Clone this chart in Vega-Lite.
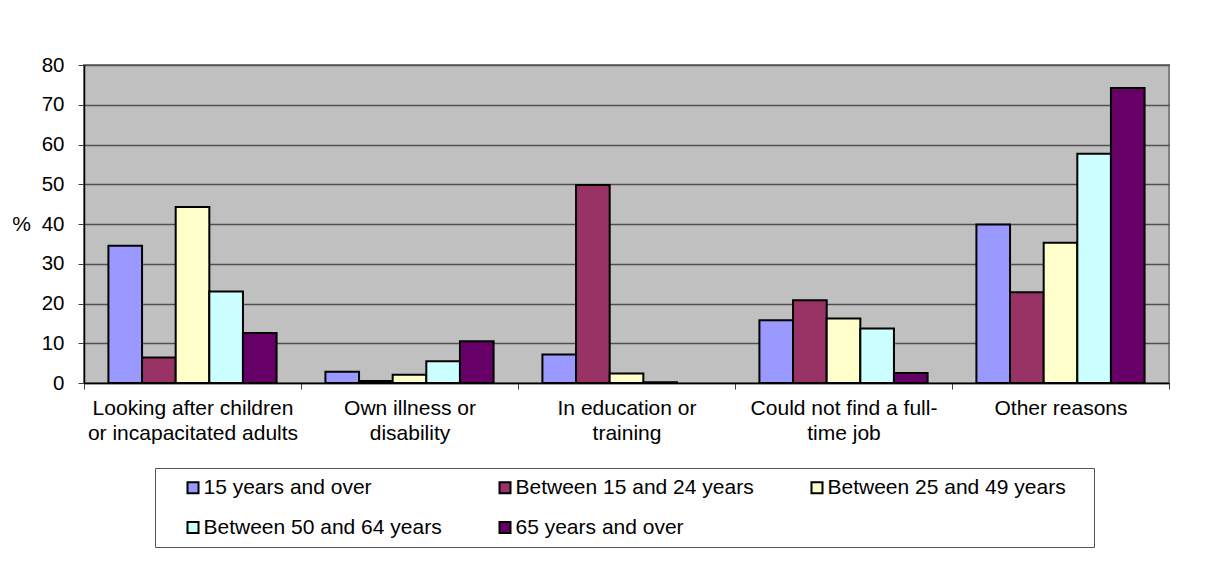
{
  "$schema": "https://vega.github.io/schema/vega-lite/v6.json",
  "width": 1085,
  "height": 318,
  "autosize": {"type": "none"},
  "padding": {"left": 84, "top": 65, "right": 39, "bottom": 189},
  "background": "#ffffff",
  "config": {
    "font": "Liberation Sans",
    "view": {"fill": "#C0C0C0", "stroke": "#808080", "strokeWidth": 2}
  },
  "data": {
    "values": [
      {"reason": "Looking after children or incapacitated adults", "age": "15 years and over", "pct": 34.5},
      {"reason": "Looking after children or incapacitated adults", "age": "Between 15 and 24 years", "pct": 6.4},
      {"reason": "Looking after children or incapacitated adults", "age": "Between 25 and 49 years", "pct": 44.3},
      {"reason": "Looking after children or incapacitated adults", "age": "Between 50 and 64 years", "pct": 23.0},
      {"reason": "Looking after children or incapacitated adults", "age": "65 years and over", "pct": 12.6},
      {"reason": "Own illness or disability", "age": "15 years and over", "pct": 2.8},
      {"reason": "Own illness or disability", "age": "Between 15 and 24 years", "pct": 0.5},
      {"reason": "Own illness or disability", "age": "Between 25 and 49 years", "pct": 2.1},
      {"reason": "Own illness or disability", "age": "Between 50 and 64 years", "pct": 5.5},
      {"reason": "Own illness or disability", "age": "65 years and over", "pct": 10.5},
      {"reason": "In education or training", "age": "15 years and over", "pct": 7.2},
      {"reason": "In education or training", "age": "Between 15 and 24 years", "pct": 49.8},
      {"reason": "In education or training", "age": "Between 25 and 49 years", "pct": 2.4},
      {"reason": "In education or training", "age": "Between 50 and 64 years", "pct": 0.2},
      {"reason": "Could not find a full-time job", "age": "15 years and over", "pct": 15.8},
      {"reason": "Could not find a full-time job", "age": "Between 15 and 24 years", "pct": 20.8},
      {"reason": "Could not find a full-time job", "age": "Between 25 and 49 years", "pct": 16.2},
      {"reason": "Could not find a full-time job", "age": "Between 50 and 64 years", "pct": 13.7},
      {"reason": "Could not find a full-time job", "age": "65 years and over", "pct": 2.5},
      {"reason": "Other reasons", "age": "15 years and over", "pct": 39.9},
      {"reason": "Other reasons", "age": "Between 15 and 24 years", "pct": 22.8},
      {"reason": "Other reasons", "age": "Between 25 and 49 years", "pct": 35.3},
      {"reason": "Other reasons", "age": "Between 50 and 64 years", "pct": 57.7},
      {"reason": "Other reasons", "age": "65 years and over", "pct": 74.2}
    ]
  },
  "mark": {"type": "bar", "stroke": "#000000", "strokeWidth": 2},
  "encoding": {
    "x": {
      "field": "reason",
      "type": "nominal",
      "sort": null,
      "scale": {"paddingInner": 0, "paddingOuter": 0},
      "axis": {
        "title": null,
        "labelAngle": 0,
        "labelFontSize": 21,
        "labelColor": "#000000",
        "labelLineHeight": 25,
        "labelPadding": 8,
        "labelBaseline": "top",
        "labelLimit": 0,
        "tickBand": "extent",
        "tickSize": 6,
        "tickColor": "#404040",
        "domainColor": "#000000",
        "domainWidth": 1.5,
        "labelExpr": "datum.value == 'Looking after children or incapacitated adults' ? ['Looking after children', 'or incapacitated adults'] : datum.value == 'Own illness or disability' ? ['Own illness or', 'disability'] : datum.value == 'In education or training' ? ['In education or', 'training'] : datum.value == 'Could not find a full-time job' ? ['Could not find a full-', 'time job'] : datum.value"
      }
    },
    "xOffset": {
      "field": "age",
      "type": "nominal",
      "sort": ["15 years and over", "Between 15 and 24 years", "Between 25 and 49 years", "Between 50 and 64 years", "65 years and over"],
      "scale": {"domain": ["15 years and over", "Between 15 and 24 years", "Between 25 and 49 years", "Between 50 and 64 years", "65 years and over"], "paddingInner": 0, "paddingOuter": 0.726}
    },
    "y": {
      "field": "pct",
      "type": "quantitative",
      "scale": {"domain": [0, 80], "nice": false},
      "axis": {
        "values": [0, 10, 20, 30, 40, 50, 60, 70, 80],
        "title": "%",
        "titleAngle": 0,
        "titleFontSize": 21,
        "titleFontWeight": "normal",
        "titleColor": "#000000",
        "titleAlign": "center",
        "titleBaseline": "middle",
        "titleX": -63,
        "titleY": 159,
        "labelFontSize": 20.5,
        "labelColor": "#000000",
        "labelPadding": 14,
        "tickSize": 6,
        "tickColor": "#404040",
        "domainColor": "#000000",
        "domainWidth": 1.5,
        "grid": true,
        "gridColor": "#505050",
        "gridWidth": 1.5
      }
    },
    "color": {
      "field": "age",
      "type": "nominal",
      "scale": {
        "domain": ["15 years and over", "Between 15 and 24 years", "Between 25 and 49 years", "Between 50 and 64 years", "65 years and over"],
        "range": ["#9999FF", "#993366", "#FFFFCC", "#CCFFFF", "#660066"]
      },
      "legend": {
        "orient": "none",
        "legendX": 71,
        "legendY": 403,
        "direction": "horizontal",
        "columns": 3,
        "gridAlign": "all",
        "columnPadding": 34,
        "rowPadding": 18,
        "padding": 9,
        "strokeColor": "#555555",
        "fillColor": "#ffffff",
        "symbolType": "square",
        "symbolSize": 121,
        "symbolStrokeColor": "#000000",
        "symbolStrokeWidth": 2,
        "symbolOffset": 18.5,
        "labelOffset": 0,
        "labelFontSize": 21,
        "labelColor": "#000000",
        "labelLimit": 0,
        "title": ".",
        "titleOrient": "right",
        "titlePadding": 13,
        "titleFontSize": 21,
        "titleOpacity": 0
      }
    }
  }
}
